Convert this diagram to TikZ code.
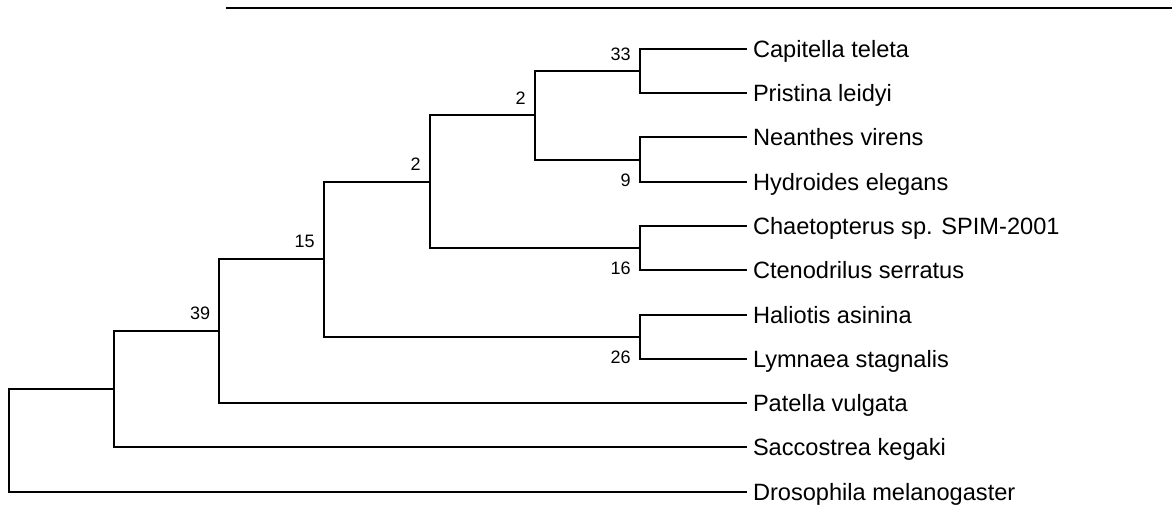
\documentclass[tikz,border=0pt]{standalone}
\usepackage{fontspec}
\setmainfont{Liberation Sans}
\usetikzlibrary{positioning}
\tikzset{
  branch/.style={draw, line width=1pt, line cap=rect},
  taxon/.style={anchor=west, inner xsep=3.5pt, inner ysep=0pt, outer sep=0pt, text height=8.5pt, text depth=0pt, font=\fontsize{11.8}{14}\selectfont},
  boot/.style={inner sep=0pt, text height=6.4pt, text depth=0pt, font=\fontsize{9}{11}\selectfont}
}

\begin{document}
\begin{tikzpicture}[x=0.5pt, y=-0.5pt]
\useasboundingbox (0,0) rectangle (1174,508);

\coordinate (rule-l) at (227,8);
\coordinate (rule-r) at (1171,8);

\node[taxon] (capitella) at (746,49)    {Capitella teleta};
\node[taxon] (pristina)  at (746,93.3)  {Pristina leidyi};
\node[taxon] (neanthes)  at (746,137.5) {Neanthes virens};
\node[taxon] (hydroides) at (746,181.8) {Hydroides elegans};
\node[taxon] (chaeto)    at (746,226.1) {Chaetopterus sp. SPIM-2001};
\node[taxon] (cteno)     at (746,270.4) {Ctenodrilus serratus};
\node[taxon] (haliotis)  at (746,314.6) {Haliotis asinina};
\node[taxon] (lymnaea)   at (746,358.9) {Lymnaea stagnalis};
\node[taxon] (patella)   at (746,403.2) {Patella vulgata};
\node[taxon] (sacco)     at (746,447.4) {Saccostrea kegaki};
\node[taxon] (droso)     at (746,491.7) {Drosophila melanogaster};

\coordinate (n33)  at (640,71.15);
\coordinate (n9)   at (640,159.65);
\coordinate (n16)  at (640,248.25);
\coordinate (n26)  at (640,336.75);
\coordinate (n2a)  at (535,115.4);
\coordinate (n2b)  at (430,181.8);
\coordinate (n15)  at (324,259.3);
\coordinate (n39)  at (219,331.2);
\coordinate (nsac) at (114,389.3);
\coordinate (root) at (9,440.5);

\node[boot, above left=5.2pt and 4.5pt of n33] (b33) {33};
\node[boot, below left=6.8pt and 4.5pt of n9]  (b9)  {9};
\node[boot, below left=6.6pt and 4.5pt of n16] (b16) {16};
\node[boot, below left=6.6pt and 4.5pt of n26] (b26) {26};
\node[boot, above left=5.4pt and 4.5pt of n2a] (b2a) {2};
\node[boot, above left=5.4pt and 4.5pt of n2b] (b2b) {2};
\node[boot, above left=5.8pt and 4.5pt of n15] (b15) {15};
\node[boot, above left=5.8pt and 4.2pt of n39] (b39) {39};

\draw[branch] (rule-l) -- (rule-r);

\draw[branch] (n33) |- (capitella.west) (n33) |- (pristina.west);
\draw[branch] (n9) |- (neanthes.west) (n9) |- (hydroides.west);
\draw[branch] (n16) |- (chaeto.west) (n16) |- (cteno.west);
\draw[branch] (n26) |- (haliotis.west) (n26) |- (lymnaea.west);
\draw[branch] (n2a) |- (n33) (n2a) |- (n9);
\draw[branch] (n2b) |- (n2a) (n2b) |- (n16);
\draw[branch] (n15) |- (n2b) (n15) |- (n26);
\draw[branch] (n39) |- (n15) (n39) |- (patella.west);
\draw[branch] (nsac) |- (n39) (nsac) |- (sacco.west);
\draw[branch] (root) |- (nsac) (root) |- (droso.west);
\end{tikzpicture}
\end{document}
